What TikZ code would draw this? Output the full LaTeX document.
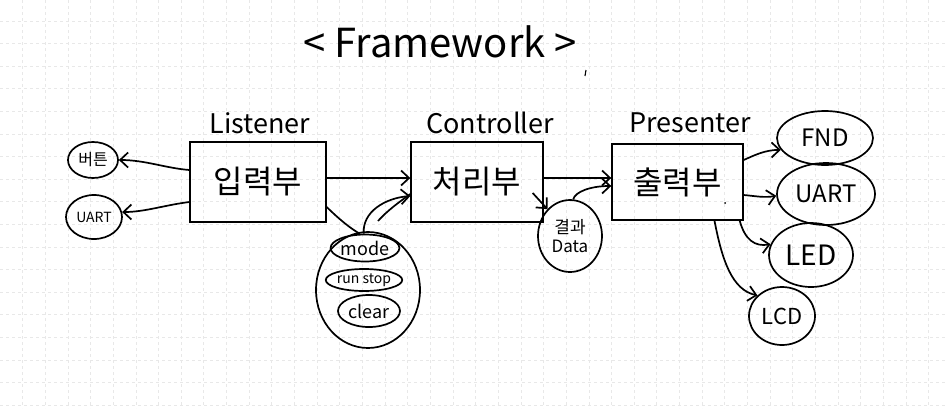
\documentclass[tikz,border=0pt]{standalone}
\usepackage{fontspec}
\setmainfont{Noto Sans CJK KR}
\usetikzlibrary{shapes.geometric,arrows.meta,calc}
\begin{document}
\begin{tikzpicture}[x=1pt,y=-1pt,
  ink/.style={line width=1.7pt,black},
  boxnode/.style={line width=1.4pt,black,draw,rectangle,inner sep=0pt},
  oval/.style={ink,draw,ellipse,inner sep=0pt},
  arr/.style={ink,-{Straight Barb[length=8pt,width=15pt,line width=1.7pt]}},
  title/.style={font=\fontsize{27}{29}\selectfont},
  kor/.style={font=\fontsize{32}{34}\selectfont},
  gridline/.style={gray!18,dashed,line width=0.8pt},
]
\fill[white] (0,0) rectangle (948,408);
\useasboundingbox (0,0) rectangle (948,408);
\foreach \k in {1,...,41} \draw[gridline] (22.65*\k,0) -- (22.65*\k,408);
\foreach \k in {0,...,17} \draw[gridline] (0,21+22.6*\k) -- (948,21+22.6*\k);

% title
\node[font=\fontsize{40}{42}\selectfont] (fw) at (440,42) {< Framework >};
\coordinate (tk1) at (586,70);
\coordinate (tk2) at (585,76);
\draw[ink,line width=1.1pt] (tk1) -- (tk2);

% boxes
\node[boxnode,kor,minimum width=136pt,minimum height=80pt] (L) at (258,182) {입력부};
\node[boxnode,kor,minimum width=132pt,minimum height=80pt] (C) at (477,182) {처리부};
\node[boxnode,kor,minimum width=131pt,minimum height=76pt] (P) at (677.5,182) {출력부};
\fill (725,203) circle (1pt);

\node[title] (tL) at (260,123) {Listener};
\node[title] (tC) at (490,123) {Controller};
\node[title] (tP) at (690,123) {Presenter};

% left ellipses
\node[oval,minimum width=50pt,minimum height=36pt,font=\fontsize{16}{18}\selectfont] (btn) at (93,160) {버튼};
\node[oval,minimum width=56pt,minimum height=44pt,font=\fontsize{14}{16}\selectfont] (uartL) at (94,217) {UART};

% mode group
\node[oval,minimum width=104pt,minimum height=116pt] (grp) at (368,290) {};
\node[oval,minimum width=58pt,minimum height=27pt,font=\fontsize{18}{20}\selectfont] (mode) at (365,248) {mode};
\node[oval,minimum width=74pt,minimum height=22pt,font=\fontsize{14}{16}\selectfont] (rs) at (364,280) {run stop};
\node[oval,minimum width=62pt,minimum height=32pt,font=\fontsize{18}{20}\selectfont] (clr) at (369,311) {clear};

% result
\node[oval,minimum width=64pt,minimum height=72pt,align=center,font=\fontsize{17}{19}\selectfont] (res) at (570,236) {결과\\Data};

% right ellipses
\node[oval,minimum width=96pt,minimum height=54pt,font=\fontsize{24}{26}\selectfont] (fnd) at (825,138) {FND};
\node[oval,minimum width=98pt,minimum height=62pt,font=\fontsize{24}{26}\selectfont] (uartR) at (826,194) {UART};
\node[oval,minimum width=84pt,minimum height=64pt,font=\fontsize{28}{30}\selectfont] (led) at (811,255) {LED};
\node[oval,minimum width=66pt,minimum height=58pt,font=\fontsize{22}{24}\selectfont] (lcd) at (782,316) {LCD};

% connectors left
\draw[arr] ([yshift=12pt]L.west) .. controls (165,168) and (145,160) .. (btn.east);
\draw[arr] ([yshift=-20pt]L.west) .. controls (165,205) and (145,212) .. (uartL.10);

% listener -> controller
\draw[arr] ([yshift=4pt]L.east) -- ([yshift=4pt]C.west);
\draw[ink] ([yshift=-25pt]L.east) .. controls (340,220) and (350,228) .. (mode.110);
\draw[arr] (mode.95) .. controls (362,212) and (385,198) .. ([yshift=-14pt]C.west);
\coordinate (s1) at (378,221);
\draw[ink] (s1) .. controls (388,210) and (398,203) .. ([yshift=-12pt]C.west);

% controller -> presenter
\draw[arr] ([yshift=4pt]C.east) -- ([yshift=4pt]P.west);
\draw[arr] ([xshift=-11pt,yshift=-11pt]C.east) -- (res.130);
\draw[arr] (res.85) .. controls (575,192) and (590,186) .. ([yshift=-4pt]P.west);

% presenter -> outputs
\draw[arr] ([yshift=22pt]P.east) .. controls (755,155) and (765,150) .. (fnd.195);
\draw[arr] ([yshift=-13pt]P.east) .. controls (755,196) and (765,198) .. (uartR.182);
\draw[arr] ([xshift=-4pt]P.south east) .. controls (745,240) and (755,247) .. (led.165);
\draw[arr] ([xshift=37pt]P.south) .. controls (722,260) and (732,290) .. (lcd.140);
\end{tikzpicture}
\end{document}
